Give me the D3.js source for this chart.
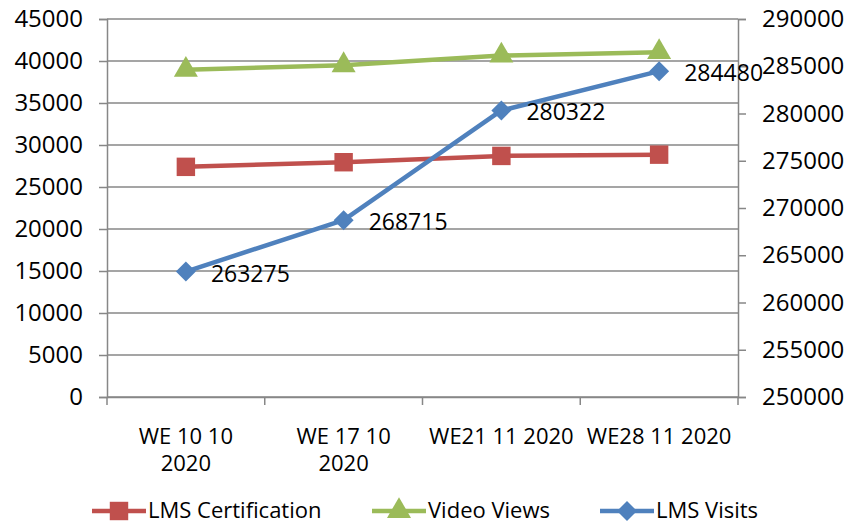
<!DOCTYPE html>
<html>
<head>
<meta charset="utf-8">
<script src="https://cdn.jsdelivr.net/npm/d3@7"></script>
<style>
  body { margin: 0; background: #fff; }
  text { font-family: "Open Sans", sans-serif; fill: #000; }
</style>
</head>
<body>
<script>
var categories = [["WE 10 10", "2020"], ["WE 17 10", "2020"], ["WE21 11 2020"], ["WE28 11 2020"]];
var certification = [27400, 27950, 28700, 28850];
var videoViews = [38950, 39500, 40650, 41050];
var lmsVisits = [263275, 268715, 280322, 284480];
var leftTicks = [0, 5000, 10000, 15000, 20000, 25000, 30000, 35000, 40000, 45000];
var rightTicks = [250000, 255000, 260000, 265000, 270000, 275000, 280000, 285000, 290000];

var width = 847, height = 524;
var plotLeft = 107, plotRight = 738, plotTop = 19, plotBottom = 397;

var svg = d3.select("body").append("svg")
    .attr("width", width)
    .attr("height", height);

var x = d3.scaleBand()
    .domain(d3.range(categories.length))
    .range([plotLeft, plotRight]);
var yL = d3.scaleLinear().domain([0, 45000]).range([plotBottom, plotTop]);
var yR = d3.scaleLinear().domain([250000, 290000]).range([plotBottom, plotTop]);
var cx = function (i) { return x(i) + x.bandwidth() / 2; };

// gridlines
svg.append("g").selectAll("line").data(leftTicks).enter().append("line")
    .attr("x1", plotLeft).attr("x2", plotRight)
    .attr("y1", d => yL(d)).attr("y2", d => yL(d))
    .attr("stroke", "#878787").attr("stroke-width", 1.5);

// left axis
var gl = svg.append("g")
    .attr("transform", "translate(" + plotLeft + ",0)")
    .call(d3.axisLeft(yL).tickValues(leftTicks).tickSize(8).tickPadding(16).tickFormat(d3.format("d")));
// right axis
var gr = svg.append("g")
    .attr("transform", "translate(" + plotRight + ",0)")
    .call(d3.axisRight(yR).tickValues(rightTicks).tickSize(8).tickPadding(16).tickFormat(d3.format("d")));
// bottom axis
var gb = svg.append("g")
    .attr("transform", "translate(0," + plotBottom + ")")
    .call(d3.axisBottom(x).tickSize(0).tickFormat(""));
gb.selectAll("line.bt").data(d3.range(categories.length + 1)).enter().append("line")
    .attr("class", "bt")
    .attr("x1", i => plotLeft + i * x.bandwidth()).attr("x2", i => plotLeft + i * x.bandwidth())
    .attr("y1", 0).attr("y2", 8)
    .attr("stroke", "#878787").attr("stroke-width", 1.5);

[gl, gr, gb].forEach(function (g) {
    g.select(".domain").attr("stroke", "#878787").attr("stroke-width", 1.5);
    g.selectAll(".tick line").attr("stroke", "#878787").attr("stroke-width", 1.5);
    g.selectAll(".tick text").style("font-size", "24px").attr("fill", "#000")
        .style("font-family", "'Open Sans', sans-serif");
});

// category labels
var cl = svg.append("g").selectAll("text").data(categories).enter().append("text")
    .attr("text-anchor", "middle")
    .style("font-size", "22px");
cl.selectAll("tspan").data((d, i) => d.map(s => ({ s: s, i: i }))).enter().append("tspan")
    .attr("x", d => cx(d.i))
    .attr("y", (d, j) => 444 + j * 27)
    .text(d => d.s);

var line = function (scale) {
    return d3.line().x((d, i) => cx(i)).y(d => scale(d));
};

// diamond as a square turned by 45 degrees
var diamond = {
    draw: function (ctx, size) {
        var r = Math.sqrt(size / 2);
        ctx.moveTo(0, -r);
        ctx.lineTo(r, 0);
        ctx.lineTo(0, r);
        ctx.lineTo(-r, 0);
        ctx.closePath();
    }
};

var series = [
    { name: "LMS Certification", data: certification, scale: yL, color: "#C0504D", symbol: d3.symbolSquare, size: 340 },
    { name: "Video Views", data: videoViews, scale: yL, color: "#9BBB59", symbol: d3.symbolTriangle, size: 250 },
    { name: "LMS Visits", data: lmsVisits, scale: yR, color: "#4F81BD", symbol: diamond, size: 200 }
];

series.forEach(function (s) {
    svg.append("path").datum(s.data)
        .attr("d", line(s.scale))
        .attr("fill", "none")
        .attr("stroke", s.color)
        .attr("stroke-width", 4.5)
        .attr("stroke-linejoin", "round");
    svg.append("g").selectAll("path").data(s.data).enter().append("path")
        .attr("d", d3.symbol().type(s.symbol).size(s.size))
        .attr("transform", (d, i) => "translate(" + cx(i) + "," + s.scale(d) + ")")
        .attr("fill", s.color);
});

// data labels for LMS Visits
svg.append("g").selectAll("text").data(lmsVisits).enter().append("text")
    .attr("x", (d, i) => cx(i) + 25)
    .attr("y", d => yR(d) + 10)
    .style("font-size", "23px")
    .text(d => d);

// legend
var legendX = [92, 372, 600];
var lg = svg.append("g").selectAll("g").data(series).enter().append("g")
    .attr("transform", (d, i) => "translate(" + legendX[i] + ",511)");
lg.append("line")
    .attr("x1", 0).attr("x2", 54)
    .attr("stroke", d => d.color).attr("stroke-width", 4.5);
lg.append("path")
    .attr("d", d => d3.symbol().type(d.symbol).size(d.size)())
    .attr("transform", "translate(27,0)")
    .attr("fill", d => d.color);
lg.append("text")
    .attr("x", 56).attr("y", 7)
    .style("font-size", "22px")
    .text(d => d.name);
</script>
</body>
</html>
